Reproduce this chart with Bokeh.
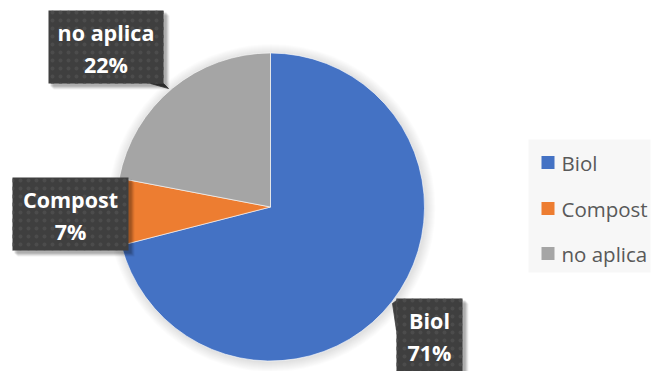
import math
from bokeh.plotting import figure
from bokeh.models import Range1d
from bokeh.core.properties import value
from bokeh.embed import file_html
from bokeh.resources import INLINE

# ---- data ----
categories = ["Biol", "Compost", "no aplica"]
percents = [71, 7, 22]
colors = ["#4472C4", "#ED7D31", "#A5A5A5"]

W, H = 653, 371
def Y(py):
    return H - py

p = figure(width=W, height=H, output_backend="svg", toolbar_location=None,
           x_range=Range1d(0, W), y_range=Range1d(0, H), min_border=0)
p.axis.visible = False
p.grid.visible = False
p.outline_line_color = None
p.background_fill_color = "white"
p.border_fill_color = "white"

cx, cy, r = 270, Y(206.5), 154

# soft shadow / glow around the pie
for k in range(10, 0, -1):
    p.circle(x=[cx + 1], y=[cy - 1], radius=r + k, fill_color="#000000",
             fill_alpha=0.012, line_color=None)

# pie wedges
total = float(sum(percents))
starts, ends = [], []
acc = 0.0
for v in percents:
    starts.append(math.pi / 2 - 2 * math.pi * acc / total)
    acc += v
    ends.append(math.pi / 2 - 2 * math.pi * acc / total)
p.wedge(x=[cx] * 3, y=[cy] * 3, radius=r, start_angle=starts, end_angle=ends,
        direction="clock", fill_color=colors, line_color="white", line_width=0.6)

# data label boxes (left, right, top) in pixels; height 73
boxes = {
    "Biol": (396, 462, 298),
    "Compost": (12, 128, 177),
    "no aplica": (48, 163, 10),
}
bh = 73

# callout pointers
p.patch(x=[150, 163, 168], y=[Y(83), Y(83), Y(88)], fill_color="#404040",
        line_color="#404040", line_width=0.8)
p.patch(x=[396, 396, 392], y=[Y(300), Y(330), Y(303)], fill_color="#404040",
        line_color="#404040", line_width=0.8)

for i, cat in enumerate(categories):
    l, rr, t = boxes[cat]
    # shadow
    for off, a in [(6, 0.06), (5, 0.08), (4, 0.1), (3, 0.12)]:
        p.quad(left=[l + off - 1], right=[rr + off], top=[Y(t + off - 1)], bottom=[Y(t + bh + off)],
               fill_color="#000000", fill_alpha=a, line_color=None)
    p.quad(left=[l], right=[rr], top=[Y(t)], bottom=[Y(t + bh)],
           fill_color="#3f3f3f", line_color=None,
           hatch_pattern="dot", hatch_color="#4c4c4c", hatch_scale=8, hatch_weight=1)
    xc = (l + rr) / 2
    p.text(x=[xc], y=[Y(t + 22)], text=[cat], text_font=value("Open Sans"),
           text_font_style="bold", text_font_size="21.5px", text_color="white",
           text_align="center", text_baseline="middle")
    p.text(x=[xc], y=[Y(t + 54)], text=[f"{percents[i]}%"], text_font=value("Open Sans"),
           text_font_style="bold", text_font_size="21.5px", text_color="white",
           text_align="center", text_baseline="middle")

# legend
p.quad(left=[528], right=[650], top=[Y(139)], bottom=[Y(272)],
       fill_color="#f7f7f7", line_color=None)
leg_y = [162, 208, 253]
for i, cat in enumerate(categories):
    yy = leg_y[i]
    p.quad(left=[541], right=[554], top=[Y(yy - 6.5)], bottom=[Y(yy + 6.5)],
           fill_color=colors[i], line_color=None)
    p.text(x=[561], y=[Y(yy)], text=[cat], text_font=value("Open Sans"),
           text_font_size="20.5px", text_color="#595959",
           text_align="left", text_baseline="middle")

open("out.html", "w").write(file_html(p, INLINE))
